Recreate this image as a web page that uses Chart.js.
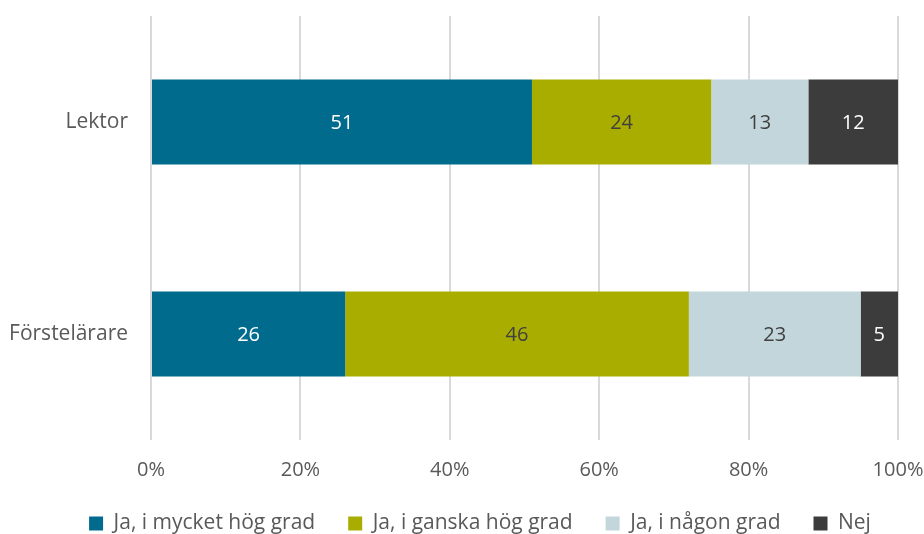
<!DOCTYPE html>
<html>
<head>
<meta charset="utf-8">
<script src="https://cdn.jsdelivr.net/npm/chart.js@4/dist/chart.umd.min.js"></script>
<style>
  html, body { margin: 0; padding: 0; background: #ffffff; }
  #wrap { width: 924px; height: 534px; position: relative; }
</style>
</head>
<body>
<div id="wrap"><canvas id="c"></canvas></div>
<script>
const categories = ['Lektor', 'Förstelärare'];
const seriesNames = ['Ja, i mycket hög grad', 'Ja, i ganska hög grad', 'Ja, i någon grad', 'Nej'];
const mycketHog = [51, 26];
const ganskaHog = [24, 46];
const nagonGrad = [13, 23];
const nej = [12, 5];
const xTicks = [0, 20, 40, 60, 80, 100];

const fills = ['#006b8d', '#a8ad00', '#c3d6dc', '#3c3c3c'];
const labelColors = ['#ffffff', '#404040', '#404040', '#ffffff'];
const FONT = "'Open Sans', sans-serif";

// Writes each segment's value in the middle of its bar
const segmentLabels = {
  id: 'segmentLabels',
  afterDatasetsDraw(chart) {
    const ctx = chart.ctx;
    ctx.save();
    ctx.font = "20px " + FONT;
    ctx.textAlign = 'center';
    ctx.textBaseline = 'middle';
    chart.data.datasets.forEach((ds, i) => {
      const meta = chart.getDatasetMeta(i);
      meta.data.forEach((bar, j) => {
        const p = bar.getProps(['x', 'y', 'base'], true);
        ctx.fillStyle = labelColors[i];
        ctx.fillText(String(ds.data[j]), (p.x + p.base) / 2, p.y + 1);
      });
    });
    ctx.restore();
  }
};

// Keeps the legend row compact vertically and nudges it a little to the right
const legendPlacement = {
  id: 'legendPlacement',
  afterInit(chart) {
    const legend = chart.legend;
    if (!legend) return;
    const fit = legend.fit;
    legend.fit = function () {
      fit.call(this);
      this.height = 54;
    };
  },
  afterLayout(chart) {
    const legend = chart.legend;
    if (!legend) return;
    legend.left += 18;
    legend.right += 18;
  }
};

new Chart(document.getElementById('c'), {
  type: 'bar',
  data: {
    labels: categories,
    datasets: [mycketHog, ganskaHog, nagonGrad, nej].map((d, i) => ({
      label: seriesNames[i],
      data: d,
      backgroundColor: fills[i],
      borderWidth: 0,
      categoryPercentage: 1,
      barPercentage: 0.4
    }))
  },
  options: {
    indexAxis: 'y',
    responsive: true,
    maintainAspectRatio: false,
    animation: false,
    layout: { padding: { top: 16, right: 0, bottom: 0, left: 0 } },
    scales: {
      x: {
        stacked: true,
        min: 0,
        max: 100,
        afterBuildTicks(axis) { axis.ticks = xTicks.map(v => ({ value: v })); },
        afterFit(axis) {
          axis.height = 40;
          axis.paddingLeft = 0;
          axis.paddingRight = 26;
        },
        border: { display: false },
        grid: { color: '#d9d9d9', lineWidth: 2, drawTicks: false },
        ticks: {
          padding: 18,
          color: '#595959',
          font: { family: FONT, size: 20 },
          callback: v => v + '%'
        }
      },
      y: {
        stacked: true,
        afterFit(axis) {
          axis.width = 151;
          axis.paddingTop = 0;
          axis.paddingBottom = 0;
        },
        border: { display: false },
        grid: { display: false, drawTicks: false },
        ticks: {
          padding: 23,
          color: '#595959',
          font: { family: FONT, size: 21 }
        }
      }
    },
    plugins: {
      legend: {
        position: 'bottom',
        labels: {
          color: '#595959',
          font: { family: FONT, size: 21 },
          boxWidth: 14,
          boxHeight: 14,
          padding: 33
        }
      },
      tooltip: { enabled: false }
    }
  },
  plugins: [segmentLabels, legendPlacement]
});
</script>
</body>
</html>
